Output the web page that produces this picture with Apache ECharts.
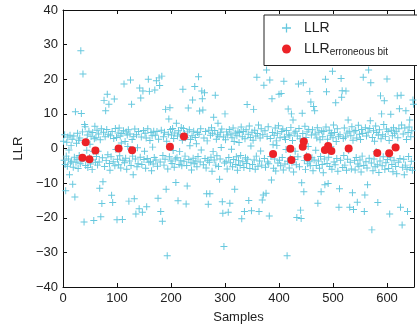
<!DOCTYPE html>
<html><head><meta charset="utf-8">
<script src="https://cdn.jsdelivr.net/npm/echarts@6/dist/echarts.min.js"></script>
<style>html,body{margin:0;padding:0;background:#fff;overflow:hidden}#c{width:417px;height:324px}</style>
</head><body><div id="c"></div>
<script>
// LLR value of each sample (sample number = index + 1)
const llr = [
2.1,-3.4,4.0,-4.6,-12.2,-2.2,1.8,-5.1,3.3,-3.0,
-0.4,-7.6,3.8,-4.2,0.9,-3.7,2.7,-10.3,-5.4,3.6,
-2.5,-14.0,10.6,-4.0,1.5,-3.1,4.4,-5.8,2.4,-2.0,
3.0,-4.4,28.2,10.1,-3.6,4.8,21.5,-2.9,-21.2,6.9,
6.3,-4.9,2.2,-0.5,3.9,-5.5,-3.2,5.0,-2.6,1.2,
-4.5,3.5,-3.3,-6.1,4.6,-0.9,-20.8,2.8,6.4,-4.0,
3.1,-2.3,5.3,-4.8,-0.8,4.2,-3.9,-11.5,2.5,-19.7,
5.7,-15.9,-2.7,-9.6,4.7,13.9,-5.2,3.4,10.9,-3.5,
5.5,15.7,-1.8,4.1,12.8,-4.3,-6.3,3.7,-2.4,-13.5,
4.9,-15.6,-3.8,2.9,14.3,-5.0,5.8,-0.3,3.2,-20.6,
-3.1,4.5,-4.7,5.9,-2.1,3.6,-5.6,1.6,4.3,-20.5,
-3.4,5.1,18.6,-4.1,2.0,-2.8,4.8,-6.0,3.9,0.6,
5.4,-15.2,-3.6,4.2,19.8,-4.9,12.8,2.6,-2.2,-7.6,
3.5,-14.5,5.6,-3.0,-18.9,4.0,-5.3,0.2,-4.4,4.9,
-17.4,17.5,-2.5,14.6,3.3,-4.6,-18.4,16.6,5.2,-3.2,
-0.8,4.4,-5.7,3.0,-16.8,-2.9,5.7,20.0,-4.0,16.5,
2.3,-3.8,4.6,-6.4,3.7,0.4,-4.5,5.0,-2.6,16.9,
3.8,-3.3,19.6,4.9,-5.1,-14.4,2.7,20.4,18.2,-3.9,
-18.2,5.3,20.9,-21.0,-2.0,3.4,-4.8,4.7,-3.1,11.3,
-11.8,2.1,-31.0,-5.9,4.1,8.5,-2.4,11.8,5.5,-3.6,
3.9,-4.3,5.8,-0.6,2.9,-5.4,4.5,-3.0,-9.8,7.3,
-2.7,3.6,-15.1,5.1,-4.6,-0.9,4.0,-3.5,6.1,-5.0,
2.4,17.1,5.8,-3.7,4.3,-2.2,3.1,-16.0,-4.9,-10.8,
4.8,11.7,-3.2,5.4,0.8,2.6,-4.1,-6.2,3.7,14.0,
-2.8,5.0,-4.4,17.9,3.2,-3.6,1.4,-5.3,4.6,-2.3,
20.7,4.1,10.8,-3.9,5.7,-0.4,16.6,14.4,11.1,-4.7,
3.0,16.1,-2.9,4.9,-5.6,-13.1,2.2,-3.4,-16.1,5.3,
-4.0,-13.1,3.8,-2.5,6.0,-6.6,4.4,-0.9,9.0,-3.3,
5.2,15.4,-4.8,2.7,-2.1,4.0,7.3,-5.2,3.5,-8.9,
-3.0,4.7,0.3,5.6,-15.4,-18.7,3.3,-28.3,-4.2,10.0,
2.5,-3.7,4.8,-5.9,3.9,-18.4,-2.6,5.5,-15.8,-4.1,
4.2,-0.2,3.1,-5.3,5.9,-3.2,2.0,-11.8,4.5,-4.6,
-2.4,3.7,-6.3,5.0,-3.5,1.7,4.6,-4.9,-2.0,6.2,
-20.3,3.4,-3.8,4.9,-5.5,-18.2,2.8,-2.7,5.4,-4.3,
12.7,-3.1,4.1,-15.0,6.5,-5.8,3.2,0.7,-18.0,4.7,
-4.6,2.4,11.3,-3.3,5.3,-6.0,3.6,-2.2,20.6,4.3,
-5.1,6.8,-18.2,-3.6,3.0,-0.7,5.7,-4.8,-14.9,4.0,
-13.4,18.3,-2.9,5.1,-5.4,-12.9,22.7,3.5,-3.9,6.3,
-4.4,-19.5,19.8,2.9,-2.3,-9.1,14.4,4.6,1.1,-5.7,
3.8,-3.0,5.9,-6.5,2.2,0.9,4.4,-4.2,6.6,15.7,
-3.4,3.1,-5.0,15.9,4.9,-2.6,5.6,-6.2,19.4,3.3,
-4.5,2.6,-0.3,5.2,-31.0,-3.7,11.4,4.0,-5.6,3.7,
-2.8,6.1,10.0,-4.1,2.3,8.2,-6.8,4.5,-3.2,-0.8,
5.0,-4.7,-19.9,3.6,-2.4,18.6,5.8,-5.3,2.8,-17.8,
-20.2,-9.9,10.2,4.3,19.0,-12.5,-3.5,6.4,-6.1,3.2,
-2.1,4.8,-4.4,0.6,5.5,-3.8,16.5,-5.0,13.4,3.9,
-2.7,5.4,-6.4,12.1,-3.3,10.9,4.2,-0.5,-4.9,3.0,
6.0,-15.8,-3.6,4.7,-5.7,2.5,-2.3,-12.5,5.1,-4.6,
3.4,-7.0,4.9,-3.0,-10.5,20.0,6.2,16.4,-4.3,2.7,
-10.1,-2.5,5.3,-5.2,3.8,0.5,4.4,-6.0,22.3,3.1,
6.8,-3.9,4.6,-4.7,13.2,2.0,-2.9,5.7,-6.6,3.5,
-17.0,-11.6,4.0,-3.4,20.2,14.8,16.7,-5.5,2.9,-2.0,
5.9,-4.8,3.3,16.6,-6.3,4.5,-3.1,8.2,-0.6,5.0,
-17.0,-4.0,3.7,-5.9,6.3,-12.8,2.4,-17.6,4.8,-3.5,
-6.2,5.2,-2.6,3.0,-15.5,-4.5,6.7,-5.1,4.1,-3.3,
2.6,-6.8,5.5,-2.2,4.3,20.6,-4.9,-18.2,-13.4,6.0,
-3.8,3.6,-5.6,-10.5,4.7,22.7,-2.8,5.8,8.0,19.0,
-4.2,-23.5,3.2,-6.4,5.1,-3.0,2.1,-5.3,6.5,-0.9,
4.6,-4.7,-15.6,3.9,-6.9,5.4,-3.6,15.2,2.8,10.0,
-5.0,4.0,-2.4,6.9,13.8,-6.1,3.5,-4.1,5.6,20.1,
-3.2,4.9,-5.8,2.3,-18.9,-2.7,9.9,5.3,-4.6,3.7,
-6.7,6.0,-3.4,4.4,0.4,-5.2,5.0,-7.3,15.2,3.1,
-4.0,5.7,11.5,-2.9,-17.0,15.4,6.8,-22.1,-5.4,4.2,
-3.1,-7.6,5.9,-4.8,10.9,2.6,-6.0,-18.2,4.6,-2.3,
6.2,8.2,-5.5,3.4,-3.7,5.1,-6.3,14.0,12.8
];
// samples whose bit was decoded in error, and their LLR
const errSamples = [36,42,49,60,103,128,198,224,389,421,423,444,446,453,485,491,497,529,582,604,616];
const errLLR = [-2.7,1.8,-3.1,-0.6,0.0,-0.5,0.5,3.5,-1.6,-0.1,-3.3,0.5,2.0,-2.5,-0.4,0.7,-0.7,0.0,-1.3,-1.4,0.3];
const xTicks = [0,100,200,300,400,500,600];
const yTicks = [-40,-30,-20,-10,0,10,20,30,40];
const seriesNames = ['LLR','LLR_err'];

const font = 'Liberation Sans, Arial, Helvetica, sans-serif';
const fmt = v => String(v).replace('-', '\u2212');
const plus = 'path://M-1,-0.14H-0.14V-1H0.14V-0.14H1V0.14H0.14V1H-0.14V0.14H-1Z';
const axisLineStyle = {show:true, onZero:false, lineStyle:{color:'#111', width:1}};
const xBase = {type:'value', min:0, max:650, interval:100, splitLine:{show:false}, axisLine:axisLineStyle,
  axisTick:{show:true, inside:true, length:4, lineStyle:{color:'#111'}}};
const yBase = {type:'value', min:-40, max:40, interval:10, splitLine:{show:false}, axisLine:axisLineStyle,
  axisTick:{show:true, inside:true, length:4, lineStyle:{color:'#111'}}};

const chart = echarts.init(document.getElementById('c'), null, {renderer:'canvas'});
chart.setOption({
  animation:false,
  backgroundColor:'#fff',
  textStyle:{fontFamily:font},
  grid:{left:63, right:3, top:10, bottom:37, containLabel:false, outerBoundsMode:'none'},
  xAxis:[
    Object.assign({}, xBase, {position:'bottom', name:'Samples', nameLocation:'middle', nameGap:24,
      nameTextStyle:{fontSize:13, color:'#222', fontFamily:font},
      axisLabel:{show:true, fontSize:13, color:'#222', margin:5, fontFamily:font,
        formatter:v => xTicks.includes(v) ? fmt(v) : ''}}),
    Object.assign({}, xBase, {position:'top', axisLabel:{show:false}})
  ],
  yAxis:[
    Object.assign({}, yBase, {position:'left', name:'LLR', nameLocation:'middle', nameGap:32, nameRotate:90,
      nameTextStyle:{fontSize:13, color:'#222', fontFamily:font},
      axisLabel:{show:true, fontSize:13, color:'#222', margin:5, fontFamily:font,
        formatter:v => yTicks.includes(v) ? fmt(v) : ''}}),
    Object.assign({}, yBase, {position:'right', axisLabel:{show:false}})
  ],
  legend:{
    show:true, orient:'vertical', left:264, top:15, width:142,
    backgroundColor:'#fff', borderColor:'#222', borderWidth:1,
    padding:[6,40,8,18], itemGap:7, itemWidth:9, itemHeight:9,
    data:seriesNames,
    textStyle:{fontFamily:font, fontSize:14, color:'#222', padding:[0,0,0,8],
      rich:{a:{fontSize:14, color:'#222', fontFamily:font},
            b:{fontSize:10, color:'#222', fontFamily:font, verticalAlign:'bottom', padding:[7,0,0,0]}}},
    formatter:n => n === 'LLR' ? '{a|LLR}' : '{a|LLR}{b|erroneous bit}'
  },
  series:[
    {name:seriesNames[0], type:'scatter', symbol:plus, symbolSize:7, clip:true,
     itemStyle:{color:'#66c8de', opacity:1}, z:2,
     data:llr.map((v,i)=>[i+1, v])},
    {name:seriesNames[1], type:'scatter', symbol:'circle', symbolSize:8, clip:true,
     itemStyle:{color:'#ec2227', opacity:1}, z:3,
     data:errSamples.map((s,i)=>[s, errLLR[i]])}
  ]
});
</script></body></html>
